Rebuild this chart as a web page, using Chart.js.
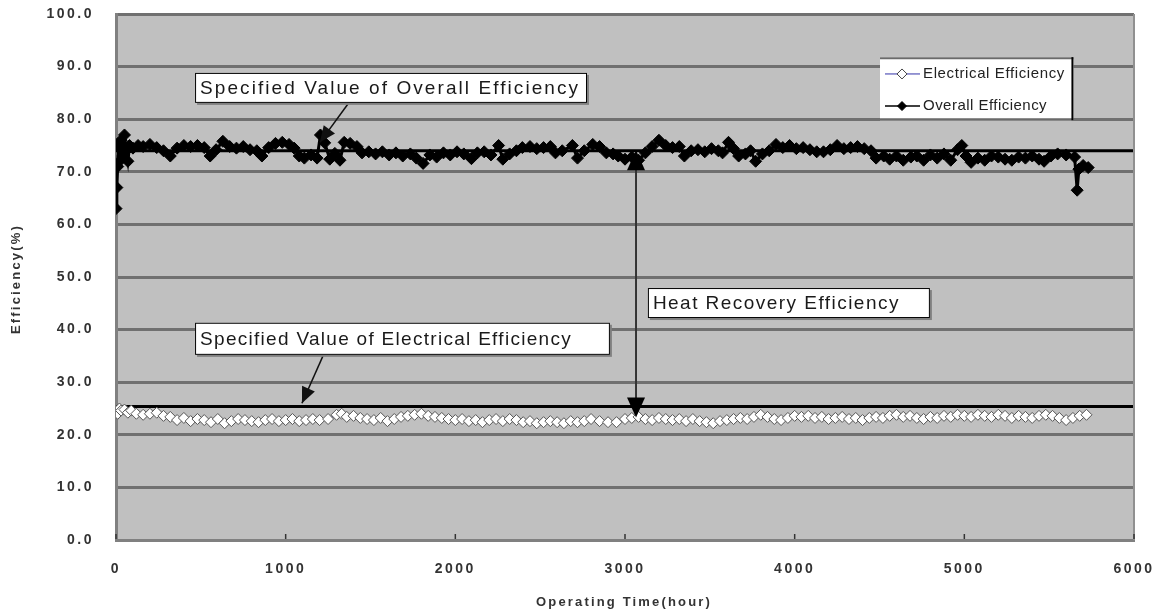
<!DOCTYPE html>
<html><head><meta charset="utf-8">
<script src="https://cdn.jsdelivr.net/npm/chart.js@4.4.0/dist/chart.umd.min.js"></script>
<style>html,body{margin:0;padding:0;background:#fff;overflow:hidden;}</style>
</head><body>
<canvas id="c" width="1158" height="615"></canvas>
<script>
// ---- data (hours, efficiency %) ----
const seriesNames = ['Electrical Efficiency', 'Overall Efficiency'];
const xTicks = [0, 1000, 2000, 3000, 4000, 5000, 6000];
const yTicks = [0, 10, 20, 30, 40, 50, 60, 70, 80, 90, 100];
const specOverall = 74;
const specElectrical = 25.4;

const overallEfficiency = [
 [0,63],[5,67],[10,71],[15,75],[20,72],[30,76],[40,73],[50,77],[60,74],[70,72],[80,75],
 [100,74.5],[130,75],[160,74.8],[200,75.2],[240,74.6],[280,74],[320,73],[360,74.5],[400,75],
 [440,74.8],[480,75],[520,74.6],[555,73],[590,74.2],[630,75.8],[670,74.8],[710,74.5],[750,74.8],
 [790,74.2],[830,74],[860,73],[900,74.6],[940,75.4],[980,75.6],[1020,75.2],[1050,74.5],[1080,73],
 [1110,72.6],[1150,73.2],[1185,72.6],[1205,77],[1230,75.5],[1260,72.4],[1290,73.5],[1320,72.2],
 [1345,75.6],[1380,75.4],[1420,74.8],[1450,73.6],[1490,73.8],[1530,73.4],[1570,73.8],[1610,73.2],
 [1650,73.6],[1690,73],[1735,73.4],[1770,72.6],[1810,71.6],[1850,73.2],[1890,72.8],[1930,73.6],
 [1970,73.2],[2010,73.8],[2050,73.4],[2095,72.5],[2130,73.6],[2170,73.8],[2210,73.2],[2255,75],
 [2280,72.4],[2320,73.4],[2360,74],[2395,74.6],[2440,74.8],[2480,74.4],[2520,74.6],[2560,74.8],
 [2590,73.6],[2630,74],[2690,75],[2720,72.6],[2760,74],[2810,75.2],[2850,74.8],[2890,73.6],
 [2930,73.4],[2960,73],[3000,72.4],[3040,72.8],[3080,72.2],[3120,73.6],[3160,74.8],[3200,76],
 [3240,75],[3280,74.6],[3320,74.8],[3350,73],[3390,74],[3430,74.2],[3470,73.8],[3510,74.4],
 [3550,74],[3575,73.6],[3610,75.6],[3640,74.4],[3670,73],[3710,73.4],[3740,74],[3770,72],
 [3810,73.4],[3850,74],[3890,75.2],[3930,74.6],[3970,75],[4010,74.4],[4050,74.6],[4090,74.2],
 [4130,73.8],[4170,73.8],[4210,74.2],[4250,75],[4290,74.4],[4330,74.6],[4370,74.8],[4410,74.4],
 [4450,74],[4480,72.6],[4525,73],[4560,72.4],[4600,73],[4640,72.2],[4685,72.8],[4720,73],
 [4760,72.2],[4800,73.2],[4840,72.6],[4880,73.4],[4920,72.2],[4960,74.2],[4985,75],[5010,73],
 [5040,71.8],[5080,72.6],[5120,72.2],[5160,73],[5200,72.8],[5240,72.4],[5280,72.2],[5320,72.8],
 [5360,72.6],[5400,73],[5440,72.4],[5470,72],[5510,73],[5550,73.4],[5600,73.2],[5650,72.8],
 [5665,66.5],[5675,70.5],[5700,71.2],[5730,70.8]
];

const electricalEfficiency = [
 [0,24.5],[10,24],[20,25],[30,24.6],[50,24.8],[70,24.2],[90,24.6],[120,24],[160,23.8],[200,24],
 [240,24.2],[280,23.6],[320,23.4],[360,22.8],[400,23.2],[440,22.6],[480,23],[520,22.8],[560,22.4],
 [600,23],[640,22.2],[680,22.6],[720,23],[760,22.8],[800,22.6],[840,22.4],[880,22.8],[920,23],
 [960,22.6],[1000,22.8],[1040,23],[1080,22.6],[1120,22.8],[1160,23],[1200,22.8],[1250,23],
 [1300,23.8],[1330,24],[1360,23.4],[1400,23.6],[1440,23.2],[1480,23],[1520,22.8],[1560,23.2],
 [1600,22.6],[1640,23],[1680,23.4],[1720,23.6],[1760,23.8],[1800,24],[1840,23.6],[1880,23.4],
 [1920,23.2],[1960,23],[2000,22.8],[2040,23],[2080,22.6],[2120,22.8],[2160,22.4],[2200,22.8],
 [2240,23],[2280,22.6],[2320,23],[2360,22.8],[2400,22.4],[2440,22.6],[2480,22.2],[2520,22.4],
 [2560,22.6],[2600,22.4],[2640,22.2],[2680,22.6],[2720,22.4],[2760,22.6],[2800,23],[2850,22.6],
 [2900,22.4],[2950,22.4],[3000,23],[3040,23.2],[3080,23.4],[3120,23],[3160,22.8],[3200,23.2],
 [3240,23],[3280,22.8],[3320,23],[3360,22.6],[3400,23],[3440,22.6],[3480,22.4],[3520,22.2],
 [3560,22.6],[3600,22.8],[3640,23],[3680,23.2],[3720,23],[3760,23.4],[3800,23.8],[3840,23.4],
 [3880,23],[3920,22.8],[3960,23.2],[4000,23.6],[4040,23.4],[4080,23.6],[4120,23.2],[4160,23.4],
 [4200,23],[4240,23.2],[4280,23.4],[4320,23],[4360,23.2],[4400,22.8],[4440,23.2],[4480,23.4],
 [4520,23.2],[4560,23.6],[4600,23.8],[4640,23.4],[4680,23.6],[4720,23.2],[4760,23],[4800,23.4],
 [4840,23.2],[4880,23.6],[4920,23.4],[4960,23.8],[5000,23.6],[5040,23.4],[5080,23.8],[5120,23.6],
 [5160,23.4],[5200,23.8],[5240,23.6],[5280,23.2],[5320,23.6],[5360,23.4],[5400,23.2],[5440,23.6],
 [5480,23.8],[5520,23.6],[5560,23.2],[5600,22.8],[5640,23.2],[5680,23.6],[5720,23.8]
];

// ---- annotation texts & placement (in data units) ----
const notes = [
 {text:'Specified Value of Overall Efficiency', x0:466, x1:2776, y0:88.8, y1:83.1, tw:380},
 {text:'Specified Value of Electrical Efficiency', x0:466, x1:2911, y0:41.3, y1:35.2, tw:372},
 {text:'Heat Recovery Efficiency', x0:3135, x1:4797, y0:47.9, y1:42.2, tw:247}
];
const arrows = [
 {x0:1367, y0:82.9, x1:1202, y1:75.6},
 {x0:1220, y0:35.0, x1:1096, y1:26.0}
];
const heatArrow = {x:3065, yTop:74.1, yBot:23.3};
const legendBox = {x0:4503, x1:5643, y0:91.8, y1:79.8, rows:[88.6, 82.5]};

const FONT = '"Liberation Sans", Arial, sans-serif';

function fitText(ctx, text, x, y, w, font, color){
  ctx.font = font; ctx.letterSpacing = '0px';
  const m = ctx.measureText(text).width;
  const ls = (w - m) / text.length;
  ctx.letterSpacing = ls.toFixed(2) + 'px';
  ctx.fillStyle = color; ctx.textBaseline = 'middle'; ctx.textAlign = 'left';
  ctx.fillText(text, x, y);
  ctx.letterSpacing = '0px';
}
function arrowHead(ctx, x0, y0, x1, y1, len, wid){
  const ang = Math.atan2(y1 - y0, x1 - x0);
  ctx.beginPath();
  ctx.moveTo(x1, y1);
  ctx.lineTo(x1 - len*Math.cos(ang) + wid/2*Math.sin(ang), y1 - len*Math.sin(ang) - wid/2*Math.cos(ang));
  ctx.lineTo(x1 - len*Math.cos(ang) - wid/2*Math.sin(ang), y1 - len*Math.sin(ang) + wid/2*Math.cos(ang));
  ctx.closePath(); ctx.fill();
}
function diamond(ctx, x, y, r, fill, stroke){
  ctx.beginPath(); ctx.moveTo(x, y-r); ctx.lineTo(x+r, y); ctx.lineTo(x, y+r); ctx.lineTo(x-r, y); ctx.closePath();
  ctx.fillStyle = fill; ctx.fill(); ctx.strokeStyle = stroke; ctx.lineWidth = 1; ctx.stroke();
}

const deco = {
  id: 'deco',
  beforeDraw(chart){
    const {ctx, chartArea:a} = chart;
    ctx.save();
    ctx.fillStyle = '#ffffff'; ctx.fillRect(0, 0, chart.width, chart.height);
    ctx.fillStyle = '#c0c0c0'; ctx.fillRect(a.left, a.top, a.right - a.left, a.bottom - a.top);
    ctx.restore();
    ctx.letterSpacing = '2.5px';
  },
  beforeDatasetsDraw(chart){
    const {ctx, chartArea:a, scales:{x, y}} = chart;
    ctx.save();
    ctx.letterSpacing = '0px';
    ctx.strokeStyle = '#000'; ctx.lineWidth = 3;
    [specOverall, specElectrical].forEach(v => {
      const py = y.getPixelForValue(v);
      ctx.beginPath(); ctx.moveTo(a.left, py); ctx.lineTo(a.right, py); ctx.stroke();
    });
    ctx.strokeStyle = '#909090'; ctx.lineWidth = 2;
    ctx.beginPath(); ctx.moveTo(a.right, a.top); ctx.lineTo(a.right, a.bottom); ctx.stroke();
    ctx.strokeStyle = '#333'; ctx.lineWidth = 1.5;
    xTicks.forEach(v => {
      const px = x.getPixelForValue(v);
      ctx.beginPath(); ctx.moveTo(px, a.bottom - 1); ctx.lineTo(px, a.bottom - 6); ctx.stroke();
    });
    ctx.restore();
  },
  afterDatasetsDraw(chart){
    const {ctx, chartArea:a, scales:{x, y}} = chart;
    const X = v => x.getPixelForValue(v), Y = v => y.getPixelForValue(v);
    ctx.save();
    ctx.letterSpacing = '0px';
    ctx.strokeStyle = '#111'; ctx.fillStyle = '#111'; ctx.lineWidth = 1.5;
    arrows.forEach(ar => {
      const x0 = X(ar.x0), y0 = Y(ar.y0), x1 = X(ar.x1), y1 = Y(ar.y1);
      ctx.beginPath(); ctx.moveTo(x0, y0); ctx.lineTo(x1, y1); ctx.stroke();
      arrowHead(ctx, x0, y0, x1, y1, 16, 14);
    });
    const hx = X(heatArrow.x), ht = Y(heatArrow.yTop), hb = Y(heatArrow.yBot);
    ctx.strokeStyle = '#333'; ctx.lineWidth = 2;
    ctx.beginPath(); ctx.moveTo(hx, ht + 10); ctx.lineTo(hx, hb - 10); ctx.stroke();
    ctx.fillStyle = '#000';
    arrowHead(ctx, hx, hb, hx, ht, 20, 18);
    arrowHead(ctx, hx, ht, hx, hb, 20, 18);
    notes.forEach(n => {
      const l = X(n.x0), r = X(n.x1), t = Y(n.y0), b = Y(n.y1);
      ctx.fillStyle = '#808080'; ctx.fillRect(l + 2, t + 2, r - l, b - t);
      ctx.fillStyle = '#fff'; ctx.fillRect(l, t, r - l, b - t);
      ctx.strokeStyle = '#000'; ctx.lineWidth = 1; ctx.strokeRect(l + 0.5, t + 0.5, r - l - 1, b - t - 1);
      fitText(ctx, n.text, l + 5, (t + b) / 2 + 1, n.tw, '19px ' + FONT, '#1a1a1a');
    });
    const L = X(legendBox.x0), R = X(legendBox.x1), T = Y(legendBox.y0), B = Y(legendBox.y1);
    ctx.fillStyle = '#fff'; ctx.fillRect(L, T, R - L, B - T);
    ctx.strokeStyle = '#6a6a6a'; ctx.lineWidth = 2;
    ctx.beginPath(); ctx.moveTo(L, T + 1); ctx.lineTo(R, T + 1); ctx.moveTo(L, B - 1); ctx.lineTo(R, B - 1); ctx.stroke();
    ctx.strokeStyle = '#000'; ctx.lineWidth = 2;
    ctx.beginPath(); ctx.moveTo(R - 1, T); ctx.lineTo(R - 1, B); ctx.stroke();
    const styles = [
      {line:'#3333aa', lw:1, fill:'#fff', stroke:'#444', r:5, tw:142},
      {line:'#000', lw:1.5, fill:'#000', stroke:'#000', r:4.5, tw:124}
    ];
    legendBox.rows.forEach((rv, i) => {
      const py = Y(rv), s = styles[i];
      ctx.strokeStyle = s.line; ctx.lineWidth = s.lw;
      ctx.beginPath(); ctx.moveTo(L + 5, py); ctx.lineTo(L + 40, py); ctx.stroke();
      diamond(ctx, L + 22, py, s.r, s.fill, s.stroke);
      fitText(ctx, seriesNames[i], L + 43, py, s.tw, '15px ' + FONT, '#222');
    });
    ctx.save();
    ctx.translate(16, 279); ctx.rotate(-Math.PI / 2);
    fitText(ctx, 'Efficiency(%)', -55, 0, 110, 'bold 13px ' + FONT, '#333');
    ctx.restore();
    fitText(ctx, 'Operating Time(hour)', 536, 602, 176, 'bold 13px ' + FONT, '#333');
    ctx.restore();
  }
};

const tickFont = {family: FONT, size: 14, weight: 'bold'};
function noPad(s){ s.paddingTop = 0; s.paddingBottom = 0; s.paddingLeft = 0; s.paddingRight = 0; }
new Chart(document.getElementById('c'), {
  type: 'scatter',
  data: {
    datasets: [
      {label: seriesNames[0], data: electricalEfficiency.map(([h, v]) => ({x: h, y: v})), showLine: true,
       borderColor: '#3333aa', borderWidth: 1, pointStyle: 'rectRot', pointRadius: 5.5,
       pointBackgroundColor: '#ffffff', pointBorderColor: '#555', pointBorderWidth: 1},
      {label: seriesNames[1], data: overallEfficiency.map(([h, v]) => ({x: h, y: v})), showLine: true,
       borderColor: '#000', borderWidth: 3, pointStyle: 'rectRot', pointRadius: 6,
       pointBackgroundColor: '#000', pointBorderColor: '#000', pointBorderWidth: 1}
    ]
  },
  options: {
    responsive: false, animation: false, devicePixelRatio: 1,
    layout: {padding: {top: 14, right: 24, left: 0, bottom: 0}},
    plugins: {legend: {display: false}, tooltip: {enabled: false}},
    scales: {
      x: {
        type: 'linear', min: 0, max: 6000,
        afterBuildTicks(s){ s.ticks = xTicks.map(v => ({value: v})); },
        afterFit(s){ s.height = 75; noPad(s); },
        ticks: {callback: v => String(v), padding: 21, font: tickFont, color: '#333', maxRotation: 0, autoSkip: false},
        grid: {display: false, drawTicks: false},
        border: {color: '#808080', width: 3}
      },
      y: {
        min: 0, max: 100,
        afterBuildTicks(s){ s.ticks = yTicks.map(v => ({value: v})); },
        afterFit(s){ s.width = 116; noPad(s); },
        ticks: {callback: v => Number(v).toFixed(1), padding: 22, font: tickFont, color: '#333', autoSkip: false},
        grid: {color: '#707070', lineWidth: 3, drawTicks: false},
        border: {color: '#808080', width: 3}
      }
    }
  },
  plugins: [deco]
});
</script>
</body></html>
